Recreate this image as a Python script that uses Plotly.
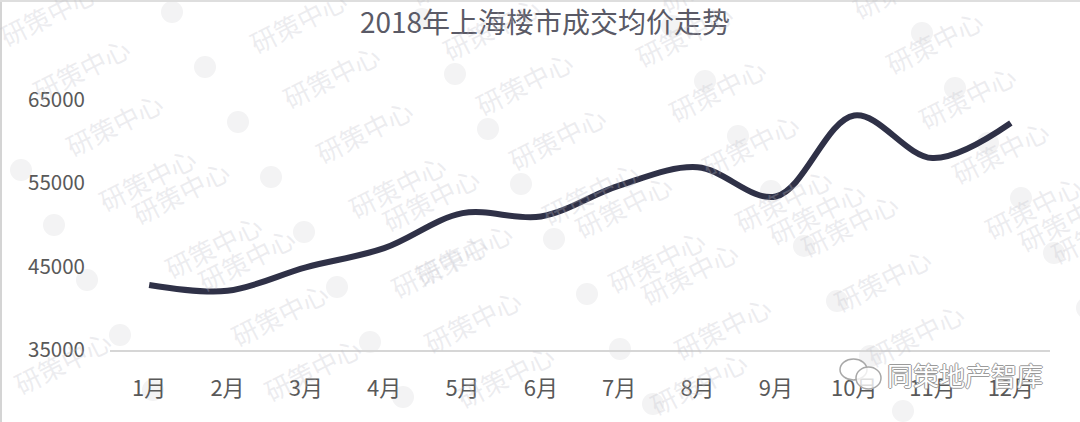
import numpy as np
import plotly.graph_objects as go

months = ["1月", "2月", "3月", "4月", "5月", "6月", "7月", "8月", "9月", "10月", "11月", "12月"]
avg_price = [42800, 42100, 44900, 47200, 51400, 51000, 54700, 56900, 53400, 63100, 58000, 62200]
y_ticks = [35000, 45000, 55000, 65000]
title_text = "2018年上海楼市成交均价走势"
source_text = "同策地产智库"
watermark_text = "研策中心"

W, H = 1080, 422
L, R, T, B = 110, 30, 83, 72
PW, PH = W - L - R, H - T - B


def px(x):
    return (x - L) / PW


def py(y):
    return (H - B - y) / PH


fig = go.Figure()
fig.add_trace(go.Scatter(
    x=months, y=avg_price, mode="lines",
    line=dict(shape="spline", smoothing=1.0, color="#2f3147", width=6),
    hoverinfo="x+y", showlegend=False,
))

shapes = []
annotations = []

# faint watermark lattice (decoration)
a = np.array([33, 55])
b = np.array([217, -48])
anchor = np.array([238, 122])
for i in range(-12, 14):
    for j in range(-4, 9):
        g = anchor + i * a + j * b
        if -80 < g[0] < W + 20 and -40 < g[1] < H + 40:
            shapes.append(dict(type="circle", xref="paper", yref="paper",
                               x0=px(g[0] - 11), x1=px(g[0] + 11),
                               y0=py(g[1] + 11), y1=py(g[1] - 11),
                               fillcolor="#f3f3f4", line=dict(width=0), layer="below"))
            t = g + np.array([69, -34])
            annotations.append(dict(text=watermark_text, x=px(t[0]), y=py(t[1]),
                                    xref="paper", yref="paper", showarrow=False,
                                    textangle=-27,
                                    font=dict(family="Noto Sans CJK SC", size=26,
                                              color="rgba(190,190,200,0.28)")))

# image border lines (left and top)
shapes.append(dict(type="line", xref="paper", yref="paper", x0=px(1), x1=px(1), y0=py(0), y1=py(H),
                   line=dict(color="#d4d4d4", width=2)))
shapes.append(dict(type="line", xref="paper", yref="paper", x0=px(0), x1=px(W), y0=py(1), y1=py(1),
                   line=dict(color="#dedede", width=2)))

# wechat-like icon
shapes.append(dict(type="circle", xref="paper", yref="paper", x0=px(840), x1=px(867),
                   y0=py(380), y1=py(359), line=dict(color="#a8a8a8", width=1.5),
                   fillcolor="rgba(255,255,255,0.6)"))
shapes.append(dict(type="circle", xref="paper", yref="paper", x0=px(856), x1=px(881),
                   y0=py(389), y1=py(367), line=dict(color="#a8a8a8", width=1.5),
                   fillcolor="rgba(255,255,255,0.8)"))

annotations.append(dict(text=source_text, x=px(965), y=py(374), xref="paper", yref="paper",
                        showarrow=False, xanchor="center", yanchor="middle",
                        font=dict(family="Noto Sans CJK SC", size=26, color="#ffffff",
                                  shadow="1px 0 0 #9a9a9a, -1px 0 0 #9a9a9a, 0 1px 0 #9a9a9a, 0 -1px 0 #9a9a9a")))

fig.update_layout(
    width=W, height=H,
    margin=dict(l=L, r=R, t=T, b=B),
    paper_bgcolor="white", plot_bgcolor="white",
    title=dict(text=title_text, x=545 / W, xanchor="center", xref="container",
               y=1 - 23 / H, yanchor="middle", yref="container",
               font=dict(family="Noto Sans CJK SC", size=28, color="#5a5a66")),
    xaxis=dict(type="category", range=[-0.5, 11.5], showgrid=False, zeroline=False,
               showline=True, linecolor="#d6d6d6", linewidth=2, ticks="",
               ticklabelstandoff=18,
               tickfont=dict(family="Noto Sans CJK SC", size=22, color="#595959")),
    yaxis=dict(range=[35000, 67000], tickvals=y_ticks, showgrid=False, zeroline=False,
               showline=False, ticks="", ticklabelstandoff=24,
               tickformat="d",
               tickfont=dict(family="Noto Sans CJK SC", size=20.5, color="#595959")),
    shapes=shapes,
    annotations=annotations,
)

fig.write_html("out.html", config={"displayModeBar": False},
               post_script="document.body.style.margin='0px';")
